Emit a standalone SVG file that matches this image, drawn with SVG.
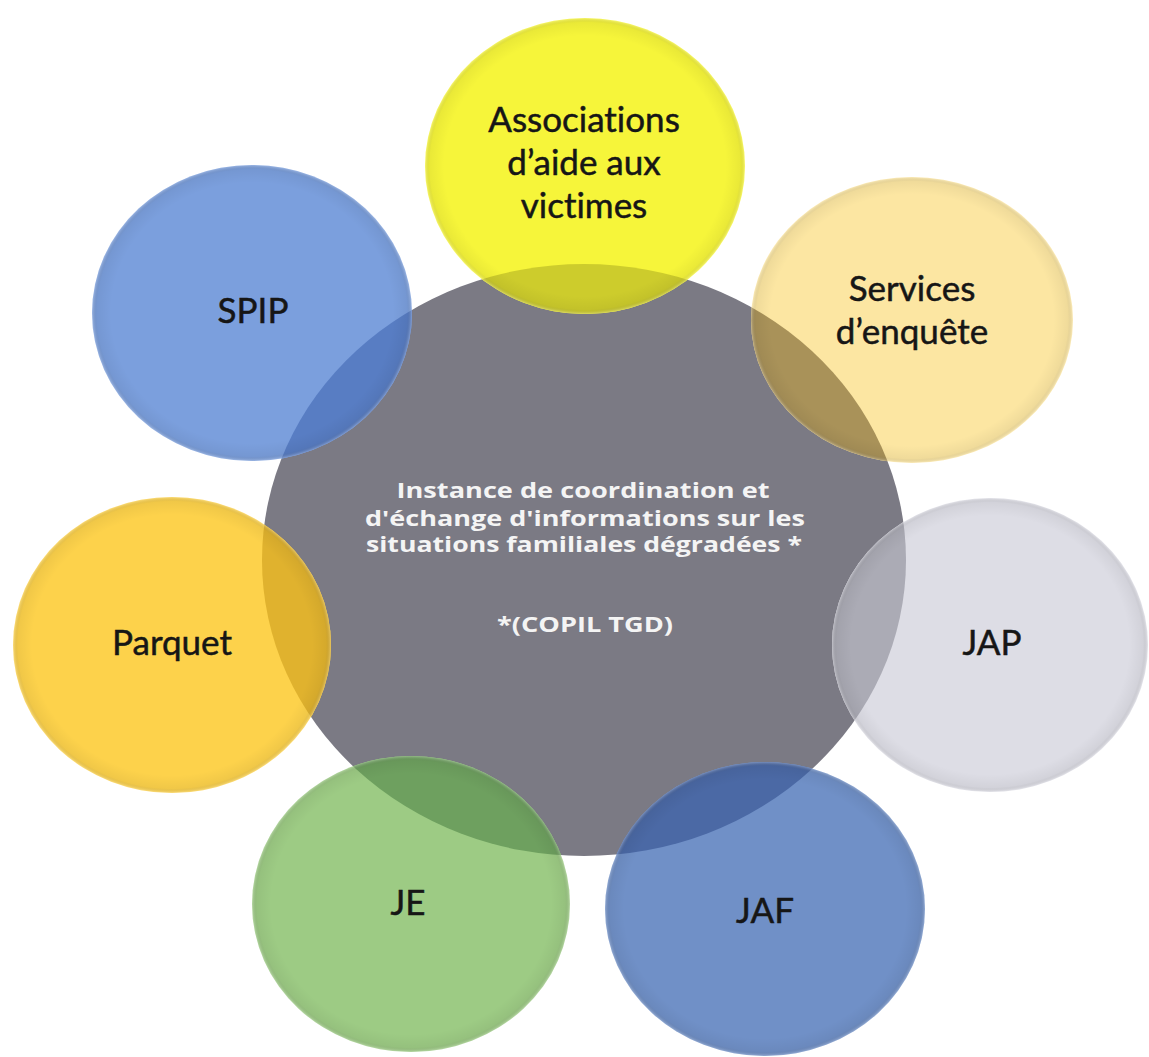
<svg xmlns="http://www.w3.org/2000/svg" width="1149" height="1057" viewBox="0 0 1149 1057">
<style>
.lbl{font-family:Lato,"Open Sans","Liberation Sans",sans-serif;font-size:35px;fill:#161616;stroke:#161616;stroke-width:0.5px;text-anchor:middle;font-variant-ligatures:none}
.ctr{font-family:"Open Sans","Liberation Sans",sans-serif;font-weight:bold;font-size:21px;fill:#f4f4f4;text-anchor:middle}
.rim{fill:url(#rim)}
</style>
<defs>
<radialGradient id="rim" cx="0.5" cy="0.5" r="0.5">
<stop offset="0.88" stop-color="#000" stop-opacity="0"/>
<stop offset="0.97" stop-color="#000" stop-opacity="0.05"/>
<stop offset="1" stop-color="#fff" stop-opacity="0.25"/>
</radialGradient>
<clipPath id="cc"><ellipse cx="584" cy="560" rx="322" ry="296"/></clipPath>
</defs>
<rect width="1149" height="1057" fill="#fff"/>
<g id="connectors"/>
<g id="center">
<ellipse cx="584" cy="560" rx="322" ry="296" fill="#7b7a84"/>
</g>
<g id="associations">
<ellipse cx="585" cy="166" rx="160" ry="148" fill="#f6f53a"/>
<ellipse cx="585" cy="166" rx="160" ry="148" fill="#cdcc2c" clip-path="url(#cc)"/>
<ellipse class="rim" cx="585" cy="166" rx="160" ry="148"/>
<text class="lbl" x="584" y="132">Associations</text>
<text class="lbl" x="584" y="175">d’aide aux</text>
<text class="lbl" x="584" y="218">victimes</text>
</g>
<g id="services">
<ellipse cx="912" cy="320" rx="161" ry="143" fill="#fce6a2"/>
<ellipse cx="912" cy="320" rx="161" ry="143" fill="#a99259" clip-path="url(#cc)"/>
<ellipse class="rim" cx="912" cy="320" rx="161" ry="143"/>
<text class="lbl" x="912" y="301">Services</text>
<text class="lbl" x="912" y="344">d’enquête</text>
</g>
<g id="spip">
<ellipse cx="252" cy="313" rx="160" ry="148" fill="#7b9fdd"/>
<ellipse cx="252" cy="313" rx="160" ry="148" fill="#587dc3" clip-path="url(#cc)"/>
<ellipse class="rim" cx="252" cy="313" rx="160" ry="148"/>
<text class="lbl" x="253" y="323">SPIP</text>
</g>
<g id="parquet">
<ellipse cx="172" cy="645" rx="159" ry="148" fill="#fdd24b"/>
<ellipse cx="172" cy="645" rx="159" ry="148" fill="#e0b22e" clip-path="url(#cc)"/>
<ellipse class="rim" cx="172" cy="645" rx="159" ry="148"/>
<text class="lbl" x="172" y="655">Parquet</text>
</g>
<g id="jap">
<ellipse cx="990" cy="645" rx="158" ry="147" fill="#dddde5"/>
<ellipse cx="990" cy="645" rx="158" ry="147" fill="#ababb5" clip-path="url(#cc)"/>
<ellipse class="rim" cx="990" cy="645" rx="158" ry="147"/>
<text class="lbl" x="992" y="655">JAP</text>
</g>
<g id="je">
<ellipse cx="411" cy="904" rx="159" ry="148" fill="#9dcb84"/>
<ellipse cx="411" cy="904" rx="159" ry="148" fill="#6ea05f" clip-path="url(#cc)"/>
<ellipse class="rim" cx="411" cy="904" rx="159" ry="148"/>
<text class="lbl" x="408" y="915">JE</text>
</g>
<g id="jaf">
<ellipse cx="765" cy="909" rx="160" ry="147" fill="#7090c7"/>
<ellipse cx="765" cy="909" rx="160" ry="147" fill="#4b69a5" clip-path="url(#cc)"/>
<ellipse class="rim" cx="765" cy="909" rx="160" ry="147"/>
<text class="lbl" x="765" y="923">JAF</text>
</g>
<g id="center-label">
<text class="ctr" x="583" y="498" textLength="373" lengthAdjust="spacingAndGlyphs">Instance de coordination et</text>
<text class="ctr" x="585" y="526" textLength="440" lengthAdjust="spacingAndGlyphs">d'échange d'informations sur les</text>
<text class="ctr" x="584" y="552" textLength="436" lengthAdjust="spacingAndGlyphs">situations familiales dégradées *</text>
<text class="ctr" x="585" y="632" textLength="176" lengthAdjust="spacingAndGlyphs">*(COPIL TGD)</text>
</g>
</svg>
